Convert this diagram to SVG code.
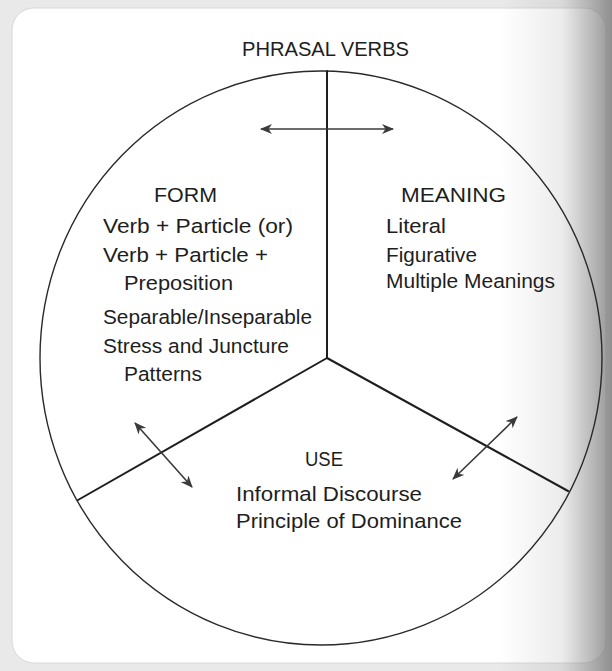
<svg xmlns="http://www.w3.org/2000/svg" width="612" height="671" viewBox="0 0 612 671">
<defs>
<linearGradient id="shade" x1="0" y1="0" x2="1" y2="0">
<stop offset="0" stop-color="#808080" stop-opacity="0"/>
<stop offset="0.55" stop-color="#808080" stop-opacity="0.15"/>
<stop offset="1" stop-color="#707070" stop-opacity="0.75"/>
</linearGradient>
<marker id="ah" viewBox="0 0 12 10" refX="11" refY="5" markerWidth="12" markerHeight="10" markerUnits="userSpaceOnUse" orient="auto-start-reverse">
<path d="M0,0 L12,5 L0,10 L3.5,5 Z" fill="#3a3a3a"/>
</marker>
<style>
.t{font-family:"Liberation Sans",Arial,sans-serif;font-size:20.5px;fill:#1e1e1e}
.h{font-family:"Liberation Sans",Arial,sans-serif;font-size:19.5px;fill:#1e1e1e}
.div{stroke:#1e1e1e;stroke-width:2;fill:none;stroke-linecap:round}
.ring{stroke:#2a2a2a;stroke-width:1.4;fill:none}
.arr{stroke:#3a3a3a;stroke-width:1.6;fill:none;marker-start:url(#ah);marker-end:url(#ah)}
</style>
</defs>
<rect x="0" y="0" width="612" height="671" fill="#e9e9e9"/>
<rect x="12" y="8" width="594" height="655" rx="22" fill="#ffffff" stroke="#d8d8d8" stroke-width="1"/>
<rect x="500" y="0" width="112" height="671" fill="url(#shade)"/>
<g id="circle">
<ellipse class="ring" cx="321" cy="358" rx="281" ry="287"/>
</g>
<g id="connectors">
<line class="div" x1="327" y1="71" x2="327" y2="358"/>
<line class="div" x1="327" y1="358" x2="78" y2="500"/>
<line class="div" x1="327" y1="358" x2="568" y2="491"/>
<line class="arr" x1="261" y1="129" x2="393" y2="129"/>
<line class="arr" x1="135" y1="423" x2="192" y2="487"/>
<line class="arr" x1="453" y1="479" x2="517" y2="417"/>
</g>
<g id="title">
<text class="h" x="242" y="56" textLength="167" lengthAdjust="spacingAndGlyphs">PHRASAL VERBS</text>
</g>
<g id="form">
<text class="t" x="154" y="202" textLength="63" lengthAdjust="spacingAndGlyphs">FORM</text>
<text class="t" x="103" y="233" textLength="190" lengthAdjust="spacingAndGlyphs">Verb + Particle (or)</text>
<text class="t" x="103" y="262" textLength="165" lengthAdjust="spacingAndGlyphs">Verb + Particle +</text>
<text class="t" x="124" y="290" textLength="109" lengthAdjust="spacingAndGlyphs">Preposition</text>
<text class="t" x="103" y="324" textLength="209" lengthAdjust="spacingAndGlyphs">Separable/Inseparable</text>
<text class="t" x="103" y="353" textLength="186" lengthAdjust="spacingAndGlyphs">Stress and Juncture</text>
<text class="t" x="124" y="381" textLength="78" lengthAdjust="spacingAndGlyphs">Patterns</text>
</g>
<g id="meaning">
<text class="t" x="401" y="202" textLength="105" lengthAdjust="spacingAndGlyphs">MEANING</text>
<text class="t" x="386" y="233" textLength="60" lengthAdjust="spacingAndGlyphs">Literal</text>
<text class="t" x="386" y="262" textLength="91" lengthAdjust="spacingAndGlyphs">Figurative</text>
<text class="t" x="386" y="288" textLength="169" lengthAdjust="spacingAndGlyphs">Multiple Meanings</text>
</g>
<g id="use">
<text class="t" x="305" y="466" textLength="38" lengthAdjust="spacingAndGlyphs">USE</text>
<text class="t" x="236" y="501" textLength="186" lengthAdjust="spacingAndGlyphs">Informal Discourse</text>
<text class="t" x="236" y="528" textLength="226" lengthAdjust="spacingAndGlyphs">Principle of Dominance</text>
</g>
</svg>
